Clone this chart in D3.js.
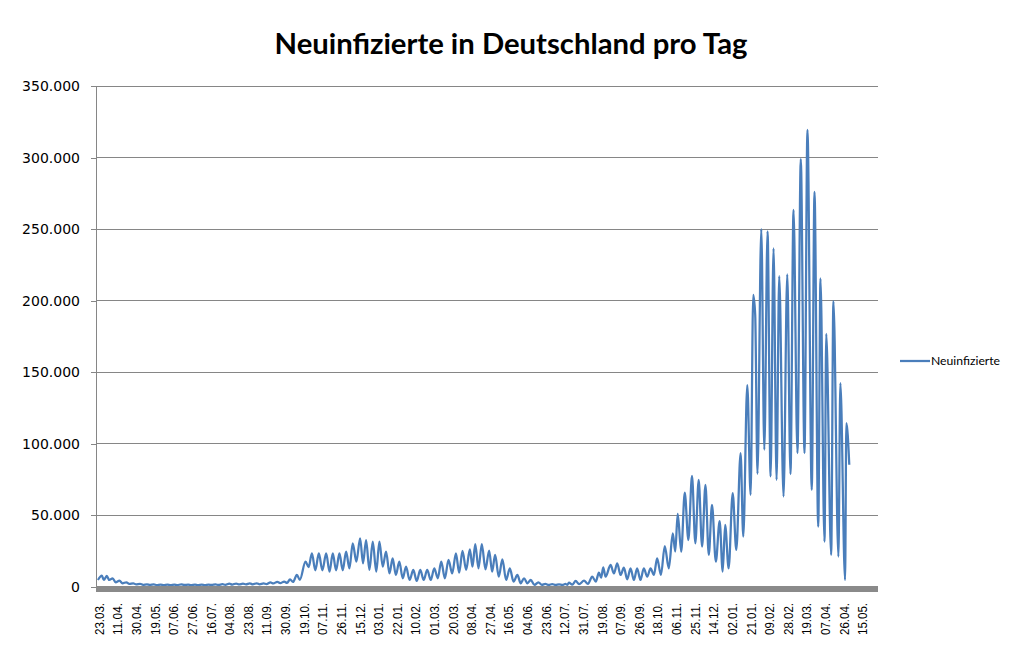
<!DOCTYPE html>
<html>
<head>
<meta charset="utf-8">
<script src="https://cdn.jsdelivr.net/npm/d3@7/dist/d3.min.js"></script>
<style>
  body { margin: 0; background: #fff; }
  svg { display: block; }
</style>
</head>
<body>
<svg id="chart" width="1024" height="664"></svg>
<script>
// x labels, one every 19 categories (days) on the axis
const tickLabels = ["23.03.", "11.04.", "30.04.", "19.05.", "07.06.", "27.06.", "16.07.", "04.08.", "23.08.", "11.09.",
    "30.09.", "19.10.", "07.11.", "26.11.", "15.12.", "03.01.", "22.01.", "10.02.", "01.03.", "20.03.",
    "08.04.", "27.04.", "16.05.", "04.06.", "23.06.", "12.07.", "31.07.", "19.08.", "07.09.", "26.09.",
    "18.10.", "06.11.", "25.11.", "14.12.", "02.01.", "21.01.", "09.02.", "28.02.", "19.03.", "07.04.",
    "26.04.", "15.05."];
const LABEL_EVERY = 19;
const CATEGORY_COUNT = 796;

const yTicks = [0, 50000, 100000, 150000, 200000, 250000, 300000, 350000];

// [day index, new cases] - weekly highs and lows
const neuinfizierte = [
    [0, 4900], [4, 7900], [6, 4900], [9, 7700], [11.5, 4900], [15, 6100], [18, 3300], [22, 4400], [25, 2600],
    [29, 3300], [32, 2100], [36, 2600], [39, 1800], [43, 2200], [46, 1500], [50, 1900], [53, 1400], [57, 1800],
    [60, 1300], [64, 1700], [67, 1300], [71, 1600], [74, 1300], [78, 1700], [81, 1300], [85, 1900], [88, 1400],
    [92, 1700], [95, 1300], [99, 1600], [102, 1300], [106, 1600], [109, 1300], [113, 1700], [116, 1400],
    [120, 1800], [123, 1400], [127, 2000], [130, 1500], [134, 2300], [137, 1700], [141, 2400], [144, 1800],
    [148, 2300], [151, 1800], [155, 2500], [158, 1900], [162, 2600], [165, 1900], [169, 2500], [172, 2000],
    [176, 3200], [179, 2500], [183, 3600], [186, 2700], [190, 3800], [193, 2800], [196, 5400], [199, 3500],
    [203, 8400], [206, 5000],
    [211.8, 17700], [215, 13900], [218.3, 23500], [221.8, 11700], [225.4, 23500], [229, 11700], [232.9, 23500],
    [236.3, 10700], [239.6, 23500], [243, 11700], [246.4, 23500], [249.8, 11700], [253.2, 24700], [256.6, 13000],
    [260, 30500], [263.7, 17700], [267.5, 34000], [270.5, 16500], [273.6, 32800], [277, 11900], [280.4, 31700],
    [284, 10700], [287.2, 31700], [290.6, 14200], [294, 24700], [297.5, 9500], [300.7, 20000], [304, 8400],
    [307.5, 17700], [311, 6100], [314.4, 14200], [318, 4900], [321.8, 11900], [325.3, 4200], [328.9, 11900],
    [332.4, 4900], [336, 11900], [339.6, 4900], [343.2, 13000], [346.8, 6100], [350.3, 17700], [354, 6100],
    [357.7, 18900], [361.5, 9500], [365.3, 23500], [368.6, 10000],
    [372, 25200], [375.7, 11900], [379.5, 26300], [382.2, 14200], [385, 30000], [388.3, 13000], [391.7, 30000],
    [395.4, 12300], [399.2, 25400], [402.2, 10700], [405.3, 22400], [409, 7200], [412.7, 19300], [416.5, 4900],
    [420.3, 13000], [424.1, 3700], [428, 8400], [431.4, 2600], [434.8, 6100], [438.2, 2600], [441.6, 4900],
    [445.5, 1400], [449.4, 3300], [453, 1500], [456.5, 2200], [460, 1400], [463.5, 2000], [467, 1400],
    [470.5, 1900], [474, 1500], [477, 2100], [479, 1500], [480.6, 3000], [484, 1700], [487.5, 4200],
    [491, 2000], [496, 4400], [500, 2200], [504.4, 7200], [508, 3800], [511.2, 10000], [513.5, 6500],
    [515.6, 13700], [518, 7200], [523.1, 15400], [526.5, 9500], [529.9, 16500], [533.3, 8400], [536.7, 13500],
    [540.1, 5400], [543.5, 13000], [546.9, 4900], [550.2, 13000], [553.6, 4900], [557, 13000], [560.5, 7200],
    [563.9, 13000], [567.3, 8400], [570.6, 20000], [574.5, 8400], [578.4, 28600], [582.5, 13000],
    [586.6, 37500], [589.1, 24700], [591.6, 51000], [595.2, 24700], [598.8, 65900], [602.5, 32800],
    [606.2, 77600], [609.6, 30500], [613, 74800], [616.5, 28200], [619.9, 71300], [623.3, 22400],
    [626.6, 57300], [630.5, 17700], [634.4, 46100], [637.5, 10700],
    [640, 43400], [643.6, 13000], [647.7, 65500], [651.4, 25900], [655.8, 93500], [658.5, 35200],
    [662.6, 141000], [666, 64400], [668.7, 204000], [670.7, 190000], [673, 79100], [676.9, 250000],
    [680, 95900], [683.3, 248500], [686.4, 77200], [689.4, 236600], [692.5, 74900], [695.2, 217200],
    [699.6, 63200], [703.4, 218400], [706.7, 78900], [709.8, 263400], [713.8, 93500], [717.2, 298900],
    [721, 93500], [724, 319400], [728.4, 67900], [731.2, 276000], [735, 42200], [737.3, 215600],
    [741.4, 31700], [743.2, 176800], [748.2, 22400], [750.5, 199700], [755.6, 21200], [757.6, 142500],
    [762.4, 4900], [763.7, 114500], [766.7, 85400]
];

const svg = d3.select("#chart");
const plot = { left: 96, right: 878, top: 86, bottom: 587 };

const x = d3.scaleLinear().domain([-2, CATEGORY_COUNT]).range([plot.left, plot.right]);
const y = d3.scaleLinear().domain([0, 350000]).range([plot.bottom, plot.top]);

const de = d3.formatLocale({ decimal: ",", thousands: ".", grouping: [3], currency: ["", " €"] });
const fmt = de.format(",");

// gridlines
svg.append("g")
    .selectAll("line")
    .data(yTicks.filter(d => d > 0))
    .join("line")
    .attr("x1", plot.left).attr("x2", plot.right)
    .attr("y1", d => y(d)).attr("y2", d => y(d))
    .attr("stroke", "#868686")
    .attr("stroke-width", 1)
    .attr("shape-rendering", "crispEdges");

// y axis
const yAxis = svg.append("g")
    .attr("transform", `translate(${plot.left},0)`)
    .call(d3.axisLeft(y).tickValues(yTicks).tickFormat(fmt).tickSize(5).tickPadding(11));
yAxis.select(".domain").attr("stroke", "#868686").attr("shape-rendering", "crispEdges");
yAxis.selectAll(".tick line").attr("stroke", "#868686").attr("shape-rendering", "crispEdges");
yAxis.selectAll("text")
    .attr("fill", "#000")
    .style("font-family", "'DejaVu Sans', Verdana, sans-serif")
    .style("font-size", "14px");

// the series
const line = d3.line()
    .x(d => x(d[0]))
    .y(d => y(d[1]))
    .curve(d3.curveMonotoneX);

svg.append("path")
    .datum(neuinfizierte)
    .attr("fill", "none")
    .attr("stroke", "#4A7EBB")
    .attr("stroke-width", 2.25)
    .attr("stroke-linejoin", "round")
    .attr("d", line);

// thick grey category axis
svg.append("rect")
    .attr("x", plot.left)
    .attr("y", y(0) - 1)
    .attr("width", plot.right - plot.left)
    .attr("height", 6)
    .attr("fill", "#8a8a8a");

// x labels
svg.append("g")
    .selectAll("text")
    .data(tickLabels)
    .join("text")
    .attr("transform", (d, i) => `translate(${x(i * LABEL_EVERY) + 1},603) rotate(-90)`)
    .attr("text-anchor", "end")
    .attr("dy", "0.36em")
    .attr("textLength", 32)
    .attr("lengthAdjust", "spacingAndGlyphs")
    .style("font-family", "'Liberation Sans', Arial, sans-serif")
    .style("font-size", "13.5px")
    .attr("fill", "#000")
    .text(d => d);

// title
const title = svg.append("text")
    .attr("x", 511)
    .attr("y", 54)
    .attr("text-anchor", "middle")
    .style("font-family", "Lato, 'Open Sans', sans-serif")
    .style("font-weight", "bold")
    .style("font-size", "24px")
    .attr("fill", "#000")
    .text("Neuinfizierte in Deutschland pro Tag");
const tw = title.node().getComputedTextLength();
title.style("font-size", (24 * 473 / tw) + "px");

// legend
const legend = svg.append("g").attr("transform", "translate(900,361)");
legend.append("line")
    .attr("x1", 0).attr("x2", 30)
    .attr("stroke", "#4A7EBB").attr("stroke-width", 2.25);
legend.append("text")
    .attr("x", 31)
    .attr("dy", "0.35em")
    .style("font-family", "Lato, 'Open Sans', sans-serif")
    .style("font-size", "12.2px")
    .attr("fill", "#000")
    .text("Neuinfizierte");
</script>
</body>
</html>
